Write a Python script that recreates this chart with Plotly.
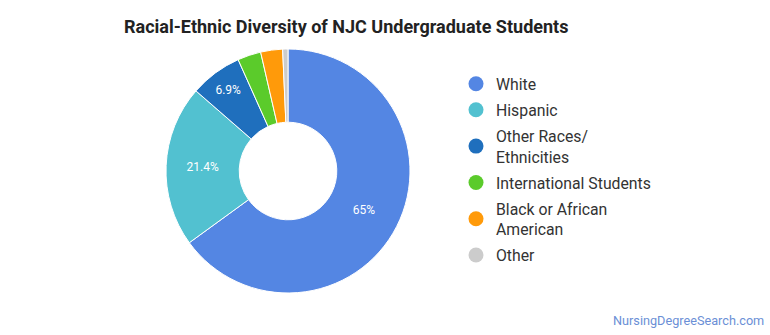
import plotly.graph_objects as go

# Undergraduate enrollment share by race/ethnicity (percent)
categories = ["White", "Hispanic", "Other Races/<br>Ethnicities", "International Students",
              "Black or African<br>American", "Other"]
shares = [65.0, 21.4, 6.9, 3.1, 2.9, 0.7]
colors = ["#5486e3", "#52c1d0", "#1f6fbd", "#5bcb2b", "#ff9a0a", "#cccccc"]

# only the larger slices carry a percentage label
slice_text = [f"{v:g}%" if v >= 5 else "" for v in shares]

W, H = 770, 335
cx, cy, r = 288, 171, 122

fig = go.Figure()
fig.add_trace(go.Pie(
    labels=categories,
    values=shares,
    text=slice_text,
    textinfo="text",
    textposition="inside",
    insidetextorientation="horizontal",
    textfont=dict(family="Roboto", size=12, color="white"),
    hole=0.4,
    sort=False,
    direction="clockwise",
    rotation=0,
    marker=dict(colors=colors, line=dict(color="white", width=1)),
    showlegend=False,
    hoverinfo="label+percent",
    domain=dict(x=[(cx - r) / W, (cx + r) / W], y=[(H - cy - r) / H, (H - cy + r) / H]),
))

# legend entries with round swatches
for name, col in zip(categories, colors):
    fig.add_trace(go.Scatter(
        x=[None], y=[None], mode="markers", name=name,
        marker=dict(symbol="circle", size=15, color=col),
        legendgroup=name,
    ))

fig.update_layout(
    width=W, height=H,
    margin=dict(l=0, r=0, t=0, b=0),
    paper_bgcolor="white", plot_bgcolor="white",
    font=dict(family="Roboto", color="#333333"),
    title=dict(text="<b>Racial-Ethnic Diversity of NJC Undergraduate Students</b>",
               x=124 / W, xanchor="left", y=1 - 27 / H, yanchor="middle",
               font=dict(family="Roboto", size=18, color="#222222")),
    xaxis=dict(visible=False), yaxis=dict(visible=False),
    legend=dict(x=456 / W, xanchor="left", y=1 - 67 / H, yanchor="top",
                font=dict(family="Roboto", size=15.8, color="#333333"),
                itemsizing="trace", traceorder="grouped", tracegroupgap=2.5,
                bgcolor="rgba(0,0,0,0)"),
    annotations=[dict(text="NursingDegreeSearch.com", x=766 / W, y=1 - 320 / H,
                      xref="paper", yref="paper", xanchor="right", yanchor="middle",
                      showarrow=False, font=dict(family="Roboto", size=12.7, color="#6b8fd6"))],
)

fig.write_html("out.html")
